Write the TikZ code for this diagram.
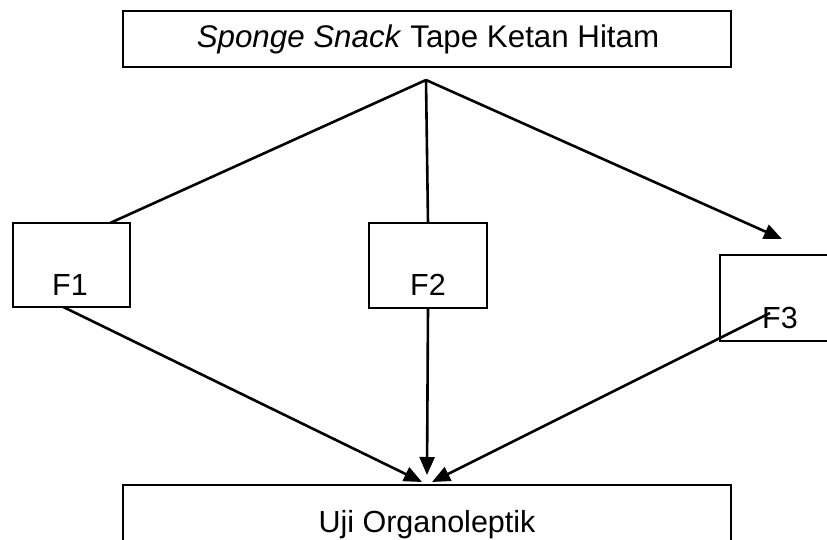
\documentclass[tikz,border=0pt]{standalone}
\usepackage{fontspec}
\setmainfont{Liberation Sans}
\usetikzlibrary{arrows.meta,calc}
\begin{document}
\begin{tikzpicture}[x=1pt,y=-1pt,
  box/.style={draw,line width=2.8pt,rectangle,inner sep=0pt,outer sep=0pt},
  lbl/.style={anchor=base,inner sep=0pt,font=\fontsize{30.5}{36}\selectfont},
  conn/.style={line width=2.6pt},
  arr/.style={conn,-{Triangle[length=18pt,width=15pt]}}]
\useasboundingbox (0,0) rectangle (827,540);
\fill[white] (0,0) rectangle (827,540);
\clip (0,0) rectangle (827,540);
% boxes
\node[box,minimum width=608,minimum height=56] (top) at (427,39) {};
\node[box,minimum width=117,minimum height=84] (f1) at (71.5,265) {};
\node[box,minimum width=118,minimum height=85] (f2) at (428,265.5) {};
\node[box,minimum width=130,minimum height=86] (f3) at (785,298) {};
\node[box,minimum width=608,minimum height=70] (bot) at (427,520) {};
% labels
\node[lbl,font=\fontsize{31.3}{36}\selectfont] (t1) at (428,48) {\textit{Sponge Snack} Tape Ketan Hitam};
\node[lbl] (t2) at (70,295) {F1};
\node[lbl] (t3) at (428,295) {F2};
\node[lbl] (t4) at (780,328) {F3};
\node[lbl] (t5) at (427,532) {Uji Organoleptik};
% coordinates
\coordinate (apex) at (426,80);
\coordinate (f1in) at ($(f1.north west)!0.83!(f1.north east)$);
\coordinate (f1out) at ($(f1.south west)!0.43!(f1.south east)$);
\coordinate (f3tip) at (782,239);
\coordinate (f3out) at (770,313);
\coordinate (in1) at ($(bot.north)+(-5,-3)$);
\coordinate (in2) at ($(bot.north)+(0,-10)$);
\coordinate (in3) at ($(bot.north)+(5,-3)$);
% connectors
\draw[conn] (apex) -- (f1in);
\draw[conn] (apex) -- (f2.north);
\draw[arr] (apex) -- (f3tip);
\draw[arr] (f1out) -- (in1);
\draw[arr] (f2.south) -- (in2);
\draw[arr] (f3out) -- (in3);
\end{tikzpicture}
\end{document}
